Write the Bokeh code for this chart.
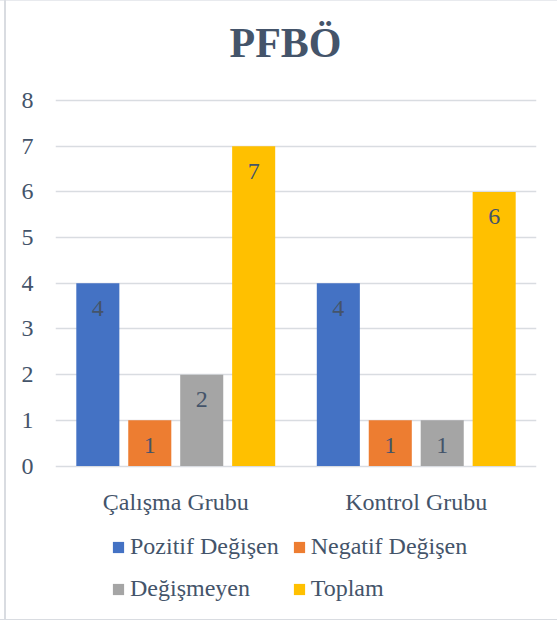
from bokeh.plotting import figure
from bokeh.models import (ColumnDataSource, FactorRange, Range1d, Legend, LegendItem,
                          FixedTicker, Label)
from bokeh.transform import dodge
from bokeh.core.properties import value
from bokeh.embed import file_html
from bokeh.resources import INLINE

# ---- data ----
groups = ["Çalışma Grubu", "Kontrol Grubu"]
series = ["Pozitif Değişen", "Negatif Değişen", "Değişmeyen", "Toplam"]
pozitif = [4, 4]
negatif = [1, 1]
degismeyen = [2, 1]
toplam = [7, 6]
y_ticks = [0, 1, 2, 3, 4, 5, 6, 7, 8]
title_text = "PFBÖ"

# ---- style ----
FONT = "Liberation Serif"
TXT = "#44546A"
LINE = "#D9DCE1"
colors = ["#4472C4", "#ED7D31", "#A5A5A5", "#FFC000"]
offsets = [-0.324, -0.108, 0.108, 0.324]
bar_w = 0.179

cols = ["pozitif", "negatif", "degismeyen", "toplam"]
data = dict(groups=groups, pozitif=pozitif, negatif=negatif,
            degismeyen=degismeyen, toplam=toplam, base=[0, 0])
for c in cols:
    data[c + "_lbl"] = [str(v) for v in data[c]]
source = ColumnDataSource(data)

# frame spans the full height (title, plot, category labels and legend inside it)
p = figure(width=557, height=624,
           x_range=FactorRange(factors=groups, range_padding=0),
           y_range=Range1d(-3.272, 10.189),
           output_backend="svg", toolbar_location=None,
           min_border_left=55, min_border_right=21,
           min_border_top=0, min_border_bottom=9)
p.border_fill_color = None
p.background_fill_color = None
p.styles = {"background": (
    f"linear-gradient({LINE},{LINE}) 4px 0 / 2px 620px no-repeat, "
    f"linear-gradient({LINE},{LINE}) 0 619px / 557px 1px no-repeat, "
    f"linear-gradient(#E8EAEE,#E8EAEE) 0 0 / 557px 1px no-repeat, white")}
p.outline_line_color = None
p.xgrid.grid_line_color = None
p.ygrid.grid_line_color = LINE
p.ygrid.grid_line_width = 1.5
p.yaxis.ticker = FixedTicker(ticks=y_ticks)
p.xaxis.visible = False

ax = p.yaxis[0]
ax.axis_line_color = None
ax.major_tick_line_color = None
ax.minor_tick_line_color = None
ax.major_tick_out = 0
ax.major_label_text_font = FONT
ax.major_label_text_font_size = "24px"
ax.major_label_text_color = TXT
ax.major_label_standoff = 22

renderers = []
for c, color, off in zip(cols, colors, offsets):
    r = p.vbar(x=dodge("groups", off, range=p.x_range), top=c, width=bar_w,
               source=source, fill_color=color, line_color=None)
    renderers.append(r)
    p.text(x=dodge("groups", off, range=p.x_range), y=c, text=c + "_lbl",
           source=source, text_font=value(FONT), text_font_size=value("24px"),
           text_color=TXT, text_align="center", text_baseline="middle",
           y_offset=25)

# category labels under the baseline
p.text(x="groups", y="base", text="groups", source=source,
       text_font=value(FONT), text_font_size=value("24px"), text_color=TXT,
       text_align="center", text_baseline="alphabetic", y_offset=36)

# chart title
p.add_layout(Label(x=230, y=573, x_units="screen", y_units="screen",
                   text=title_text, text_font=FONT, text_font_size="42px",
                   text_font_style="bold", text_color=TXT,
                   text_align="center", text_baseline="alphabetic"))

legend = Legend(items=[LegendItem(label=s, renderers=[r]) for s, r in zip(series, renderers)],
                ncols=2, orientation="horizontal", location=(56, 12),
                glyph_width=14, glyph_height=14, label_standoff=5,
                label_height=29, spacing=13,
                label_text_font=FONT, label_text_font_size="24px",
                label_text_color=TXT, padding=0, margin=0,
                border_line_color=None, background_fill_alpha=0)
p.add_layout(legend)

open("out.html", "w").write(file_html(p, INLINE))
